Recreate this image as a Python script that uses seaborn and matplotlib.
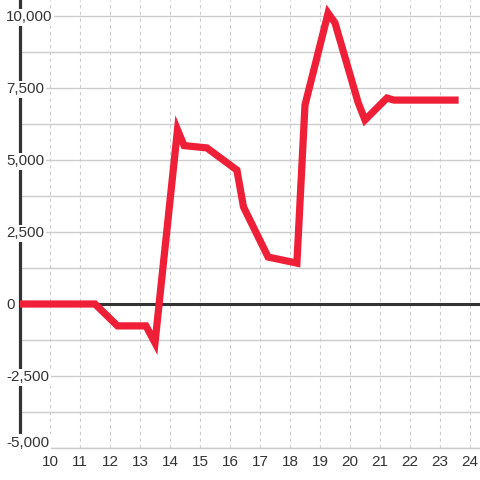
import numpy as np
import pandas as pd
import matplotlib
matplotlib.use("Agg")
import matplotlib.pyplot as plt
import seaborn as sns

# data
hours = [9.0, 11.5, 12.25, 13.2, 13.5, 14.25, 14.47, 15.23, 16.23, 16.45,
         17.27, 18.23, 18.5, 19.27, 19.5, 20.27, 20.5, 21.23, 21.47, 23.5]
values = [0, 0, -760, -760, -1350, 6050, 5500, 5420, 4650, 3370,
          1630, 1420, 6910, 10100, 9760, 7000, 6390, 7150, 7080, 7080]
x_ticks = list(range(10, 25))
y_ticks = [-5000, -2500, 0, 2500, 5000, 7500, 10000]
y_labels = ["-5,000", "-2,500", "0", "2,500", "5,000", "7,500", "10,000"]

sns.set_theme(style="white")
plt.rcParams["font.family"] = ["Liberation Sans", "DejaVu Sans"]

W = H = 480
fig = plt.figure(figsize=(4.8, 4.8), dpi=100)
fig.patch.set_facecolor("white")
ax = fig.add_axes([20 / W, 32 / H, 460 / W, 448 / H])
ax.set_facecolor("white")

df = pd.DataFrame({"hour": hours, "value": values})
sns.lineplot(data=df, x="hour", y="value", ax=ax, color="#EE1F36", linewidth=5.2,
             solid_capstyle="projecting", solid_joinstyle="miter", zorder=4)

ax.set_xlim(9, 9 + 460 / 30)
ax.set_ylim(-5000, 10000 + 16 / 0.0288)

ax.set_xticks(x_ticks)
ax.set_xticklabels([str(t) for t in x_ticks])
ax.set_yticks(np.arange(-5000, 10001, 1250))
ax.tick_params(axis="y", labelleft=False, length=0)
ax.tick_params(axis="x", length=0, pad=5, labelsize=11, labelcolor="#333333")
ax.set_xlabel("")
ax.set_ylabel("")

ax.xaxis.grid(True, color="#cccccc", linestyle=(0, (3, 3)), linewidth=0.8)
ax.yaxis.grid(True, color="#cccccc", linestyle="-", linewidth=1.0)
ax.set_axisbelow(True)

for s in ["top", "right"]:
    ax.spines[s].set_visible(False)
ax.spines["bottom"].set_color("#cccccc")
ax.spines["bottom"].set_linewidth(1.0)
ax.spines["left"].set_color("#333333")
ax.spines["left"].set_linewidth(2.3)
ax.spines["left"].set_zorder(2)

ax.axhline(0, color="#333333", linewidth=2.2, zorder=3)

tr = ax.get_yaxis_transform()
for v, lab in zip(y_ticks, y_labels):
    y = v - 40 if v != -5000 else v + 5 / 0.0288
    ax.text(-14 / 460, y, lab, transform=tr, ha="left", va="center",
            fontsize=10.9, color="#333333", zorder=6, clip_on=False,
            bbox=dict(facecolor="white", edgecolor="none", boxstyle="square,pad=0.1"))

fig.savefig("out.png", dpi=100)
